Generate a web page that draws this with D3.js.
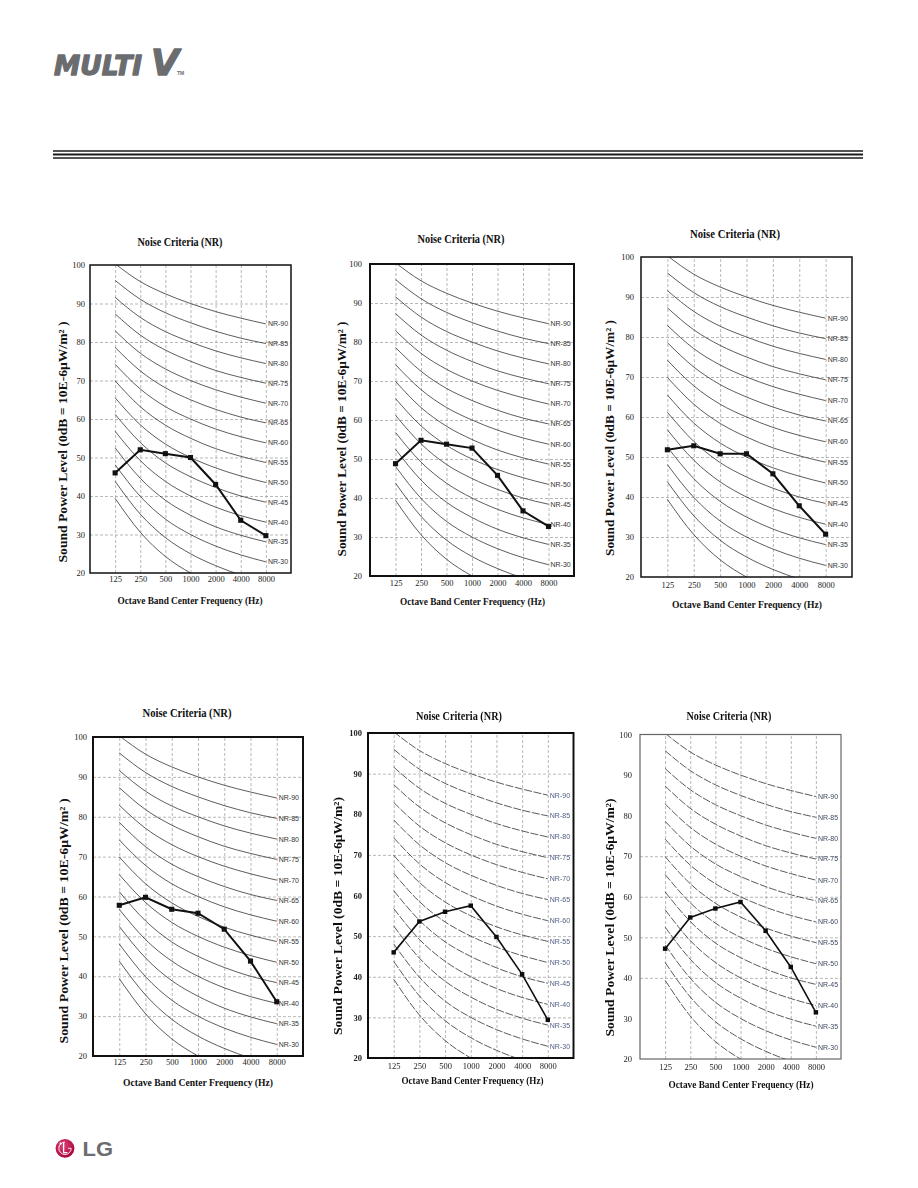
<!DOCTYPE html>
<html><head><meta charset="utf-8">
<script src="https://cdn.jsdelivr.net/npm/d3@7/dist/d3.min.js"></script>
<style>
html,body{margin:0;padding:0;background:#fff;}
svg{display:block;}
</style></head>
<body>
<svg id="page" width="918" height="1188"></svg>
<script>
// ---------------- DATA ----------------
const frequencies = ["125", "250", "500", "1000", "2000", "4000", "8000"];
const yTicks = [20, 30, 40, 50, 60, 70, 80, 90, 100];

// NR curves (dB at 125..8000 Hz)
const NR20 = [39.4, 30.6, 24.3, 20, 16.8, 14.4, 12.6];
const NR25 = [43.8, 35.3, 29.2, 25, 21.9, 19.5, 17.8];
const NR30 = [48.1, 39.9, 34.0, 30, 27.0, 24.7, 22.9];
const NR35 = [52.5, 44.6, 38.9, 35, 32.0, 29.8, 28.1];
const NR40 = [56.8, 49.2, 43.8, 40, 37.1, 34.9, 33.2];
const NR45 = [61.2, 53.9, 48.6, 45, 42.2, 40.0, 38.4];
const NR50 = [65.5, 58.5, 53.5, 50, 47.3, 45.2, 43.5];
const NR55 = [69.9, 63.2, 58.4, 55, 52.3, 50.3, 48.7];
const NR60 = [74.2, 67.8, 63.2, 60, 57.4, 55.4, 53.8];
const NR65 = [78.6, 72.5, 68.1, 65, 62.5, 60.5, 59.0];
const NR70 = [82.9, 77.1, 73.0, 70, 67.6, 65.7, 64.1];
const NR75 = [87.3, 81.8, 77.9, 75, 72.6, 70.8, 69.3];
const NR80 = [91.6, 86.4, 82.7, 80, 77.7, 75.9, 74.4];
const NR85 = [96.0, 91.1, 87.6, 85, 82.8, 81.0, 79.6];
const NR90 = [100.3, 95.7, 92.5, 90, 87.9, 86.2, 84.7];
const nrCurves = [NR20, NR25, NR30, NR35, NR40, NR45, NR50, NR55, NR60, NR65, NR70, NR75, NR80, NR85, NR90];
const nrNames  = ["NR-20","NR-25","NR-30","NR-35","NR-40","NR-45","NR-50","NR-55","NR-60","NR-65","NR-70","NR-75","NR-80","NR-85","NR-90"];
const nrLabelled = [false, false, true, true, true, true, true, true, true, true, true, true, true, true, true];

// Measured sound power levels per chart
const chart1Values = [46, 52, 51, 50, 43, 33.7, 29.7];
const chart2Values = [48.8, 54.8, 53.8, 52.8, 45.8, 36.7, 32.7];
const chart3Values = [51.8, 52.8, 50.8, 50.8, 45.8, 37.8, 30.7];
const chart4Values = [57.8, 59.8, 56.8, 55.8, 51.8, 43.8, 33.6];
const chart5Values = [46, 53.6, 56, 57.5, 49.8, 40.6, 29.4];
const chart6Values = [47.2, 54.9, 57.1, 58.7, 51.6, 42.7, 31.5];
const chartValues = [chart1Values, chart2Values, chart3Values, chart4Values, chart5Values, chart6Values];

const chartTitle = "Noise Criteria (NR)";
const xTitleA = "Octave Band Center Frequency  (Hz)";
const xTitleB = "Octave Band Center Frequency (Hz)";
const yTitleA = "Sound Power Level  (0dB  =  10E-6\u03bcW/m\u00b2  )";
const yTitleB = "Sound Power Level (0dB = 10E-6\u03bcW/m\u00b2)";

// ---------------- LAYOUT ----------------
const panels = [
  {x0:90, x1:291, y0:265, y1:573, t:{cx:180, y:246, w:85}, xt:{cx:190, y:604, w:145, s:xTitleA}, yt:{x:63, cy:442, len:241, s:yTitleA}, tickOff:9, yOff:5, frame:1.5, frameColor:"#111", style:"solid", gridRows:[30,40,50,60,70,80,90]},
  {x0:370, x1:574, y0:264, y1:576, t:{cx:461, y:243, w:87}, xt:{cx:472.5, y:605, w:145, s:xTitleA}, yt:{x:342, cy:439, len:235, s:yTitleA}, tickOff:10, yOff:8, frame:2, frameColor:"#111", style:"solid", gridRows:[30,40,50,60,70,80,90]},
  {x0:641, x1:852, y0:257, y1:577, t:{cx:735, y:238, w:90}, xt:{cx:747, y:608, w:150, s:xTitleA}, yt:{x:610, cy:438, len:236, s:yTitleA}, tickOff:11, yOff:7, frame:1.5, frameColor:"#111", style:"solid", gridRows:[30,40,50,60,70,80,90]},
  {x0:93, x1:303, y0:737, y1:1056, t:{cx:187, y:717, w:89}, xt:{cx:198, y:1086, w:150, s:xTitleA}, yt:{x:64, cy:921, len:245, s:yTitleA}, tickOff:9, yOff:6, frame:2, frameColor:"#111", style:"solid", gridRows:[30,40,50,60,70,80,90]},
  {x0:368, x1:573.5, y0:733, y1:1058, t:{cx:459, y:719.5, w:86}, xt:{cx:472.5, y:1084, w:142, s:xTitleB}, yt:{x:338, cy:916, len:238, s:yTitleB}, tickOff:11, yOff:6, frame:2, frameColor:"#111", style:"dashed", labelColor:"#4e5f82", blur:0.45, gridRows:[30,40,50,70,90]},
  {x0:640, x1:841, y0:734.5, y1:1059, t:{cx:729, y:719.5, w:85}, xt:{cx:741, y:1088, w:145, s:xTitleB}, yt:{x:610, cy:917.5, len:238, s:yTitleB}, tickOff:11, yOff:8, frame:1.2, frameColor:"#666", style:"dashed", labelColor:"#3e4a60", blur:0.3, gridRows:[40,50,60,70]}
];

const SERIF = "'Liberation Serif','Times New Roman',serif";
const SANS = "'Liberation Sans',Arial,sans-serif";

const svg = d3.select("#page");
const defs = svg.append("defs");

// ---------------- HEADER ----------------
const hdr = svg.append("g").attr("fill", "#6b6c70").attr("stroke", "#6b6c70").attr("stroke-linejoin", "round");
hdr.append("text").attr("x", 54).attr("y", 74.5).attr("stroke-width", 1.3)
  .attr("font-family", "'DejaVu Sans',sans-serif").attr("font-weight", "bold").attr("font-style", "italic")
  .attr("font-size", 26).attr("textLength", 88).attr("lengthAdjust", "spacingAndGlyphs").text("MULTI");
hdr.append("text").attr("x", 151).attr("y", 74.5).attr("stroke-width", 1.3)
  .attr("font-family", "'DejaVu Sans',sans-serif").attr("font-weight", "bold").attr("font-style", "italic")
  .attr("font-size", 36).attr("textLength", 28).attr("lengthAdjust", "spacingAndGlyphs").text("V");
hdr.append("text").attr("x", 177).attr("y", 75).attr("stroke", "none").attr("font-family", SANS).attr("font-size", 5).attr("font-weight", "bold").text("TM");

const ruleYs = [{y:151, w:1.5}, {y:154.5, w:2.2}, {y:158, w:1.5}];
svg.append("g").selectAll("line").data(ruleYs).join("line")
  .attr("x1", 53).attr("x2", 863).attr("y1", d => d.y).attr("y2", d => d.y)
  .attr("stroke", "#1a1a1a").attr("stroke-width", d => d.w);

// ---------------- FOOTER (LG logo) ----------------
const grad = defs.append("radialGradient").attr("id", "lgGrad").attr("cx", "40%").attr("cy", "35%").attr("r", "70%");
grad.append("stop").attr("offset", "0%").attr("stop-color", "#e0457a");
grad.append("stop").attr("offset", "100%").attr("stop-color", "#a50034");
const lg = svg.append("g");
lg.append("circle").attr("cx", 65).attr("cy", 1148.3).attr("r", 9.4).attr("fill", "url(#lgGrad)");
lg.append("path").attr("d", "M63.6,1142 L63.6,1152.6 L67.4,1152.6").attr("fill", "none").attr("stroke", "#fff").attr("stroke-width", 1.3);
lg.append("circle").attr("cx", 60.6).attr("cy", 1143.6).attr("r", 1.1).attr("fill", "#fff");
lg.append("path").attr("d", "M71.2,1148.3 A6.2,6.2 0 1 1 65,1142.1 M68,1148.3 L71.2,1148.3").attr("fill", "none").attr("stroke", "#fff").attr("stroke-width", 0.9);
lg.append("text").attr("x", 82.5).attr("y", 1156.3).attr("font-family", SANS).attr("font-weight", "bold")
  .attr("font-size", 20).attr("fill", "#6b6c70").attr("textLength", 30.5).attr("lengthAdjust", "spacingAndGlyphs").text("LG");

// ---------------- PANELS ----------------
panels.forEach((p, idx) => {
  const values = chartValues[idx];
  const dashed = p.style === "dashed";
  const g = svg.append("g");
  if (p.blur) {
    defs.append("filter").attr("id", "blur" + idx).attr("x", "-5%").attr("y", "-5%").attr("width", "110%").attr("height", "110%")
      .append("feGaussianBlur").attr("stdDeviation", p.blur);
    g.attr("filter", `url(#blur${idx})`);
  }
  const W = p.x1 - p.x0, H = p.y1 - p.y0;
  const x = d3.scalePoint().domain(frequencies).range([p.x0, p.x1]).padding(1);
  const y = d3.scaleLinear().domain([20, 100]).range([p.y1, p.y0]);

  defs.append("clipPath").attr("id", "clip" + idx).append("rect")
    .attr("x", p.x0).attr("y", p.y0).attr("width", W).attr("height", H);

  // vertical grid
  g.append("g").attr("transform", `translate(0,${p.y1})`)
    .call(d3.axisBottom(x).tickSize(-H).tickFormat(""))
    .call(s => s.select(".domain").remove())
    .call(s => s.selectAll("line").attr("stroke", "#9a9a9a").attr("stroke-width", 0.7).attr("stroke-dasharray", "3,2"));
  // horizontal grid
  g.append("g").attr("transform", `translate(${p.x0},0)`)
    .call(d3.axisLeft(y).tickValues(p.gridRows).tickSize(-W).tickFormat(""))
    .call(s => s.select(".domain").remove())
    .call(s => s.selectAll("line").attr("stroke", "#9a9a9a").attr("stroke-width", 0.7).attr("stroke-dasharray", "3,2"));

  // NR curves
  const curve = d3.line().x((d, i) => x(frequencies[i])).y(d => y(d)).curve(d3.curveMonotoneX);
  g.append("g").attr("clip-path", `url(#clip${idx})`).selectAll("path").data(nrCurves).join("path")
    .attr("d", curve).attr("fill", "none")
    .attr("stroke", dashed ? "#4a4a4a" : "#333")
    .attr("stroke-width", dashed ? 0.9 : 0.8)
    .attr("stroke-dasharray", dashed ? "8,1.6" : null);

  // NR labels
  const lastF = frequencies[frequencies.length - 1];
  g.append("g").selectAll("text").data(nrCurves.map((c, i) => ({v: c[c.length - 1], name: nrNames[i], show: nrLabelled[i]})).filter(d => d.show))
    .join("text")
    .attr("x", x(lastF) + 2).attr("y", d => y(d.v)).attr("dy", "0.35em")
    .attr("font-family", SANS).attr("font-size", 7).attr("fill", p.labelColor || "#333")
    .text(d => d.name);

  // frame
  g.append("rect").attr("x", p.x0).attr("y", p.y0).attr("width", W).attr("height", H)
    .attr("fill", "none").attr("stroke", p.frameColor).attr("stroke-width", p.frame);

  // y tick labels
  g.append("g").attr("transform", `translate(${p.x0},0)`)
    .call(d3.axisLeft(y).tickValues(yTicks).tickSize(0).tickPadding(p.yOff).tickFormat(d3.format("d")))
    .call(s => s.select(".domain").remove())
    .call(s => s.selectAll("text").attr("font-family", SERIF).attr("font-size", 8.5).attr("fill", "#222")
      .attr("font-weight", idx === 4 ? "bold" : null));
  // x tick labels
  g.append("g").attr("transform", `translate(0,${p.y1})`)
    .call(d3.axisBottom(x).tickSize(0))
    .call(s => s.select(".domain").remove())
    .call(s => s.selectAll("text").attr("y", p.tickOff).attr("dy", null)
      .attr("font-family", SERIF).attr("font-size", 8.5).attr("fill", "#222"));

  // titles
  g.append("text").attr("x", p.t.cx).attr("y", p.t.y).attr("text-anchor", "middle")
    .attr("font-family", SERIF).attr("font-weight", "bold").attr("font-size", 11.5).attr("fill", "#111")
    .attr("textLength", p.t.w).attr("lengthAdjust", "spacingAndGlyphs").text(chartTitle);
  g.append("text").attr("x", p.xt.cx).attr("y", p.xt.y).attr("text-anchor", "middle")
    .attr("font-family", SERIF).attr("font-weight", "bold").attr("font-size", 10.5).attr("fill", "#111")
    .attr("textLength", p.xt.w).attr("lengthAdjust", "spacingAndGlyphs").text(p.xt.s);
  g.append("text").attr("transform", `translate(${p.yt.x},${p.yt.cy}) rotate(-90)`)
    .attr("text-anchor", "middle").attr("dy", "0.35em")
    .attr("font-family", SERIF).attr("font-weight", "bold").attr("font-size", 12).attr("fill", "#111")
    .attr("textLength", p.yt.len).attr("lengthAdjust", "spacingAndGlyphs").text(p.yt.s);

  // series
  const sline = d3.line().x((d, i) => x(frequencies[i])).y(d => y(d));
  g.append("path").datum(values).attr("d", sline).attr("fill", "none")
    .attr("stroke", "#111").attr("stroke-width", dashed ? 1.6 : 2);
  g.append("g").selectAll("path").data(values).join("path")
    .attr("transform", (d, i) => `translate(${x(frequencies[i])},${y(d)})`)
    .attr("d", d3.symbol(d3.symbolSquare, dashed ? 20 : 26))
    .attr("fill", "#111");
});
</script>
</body></html>
